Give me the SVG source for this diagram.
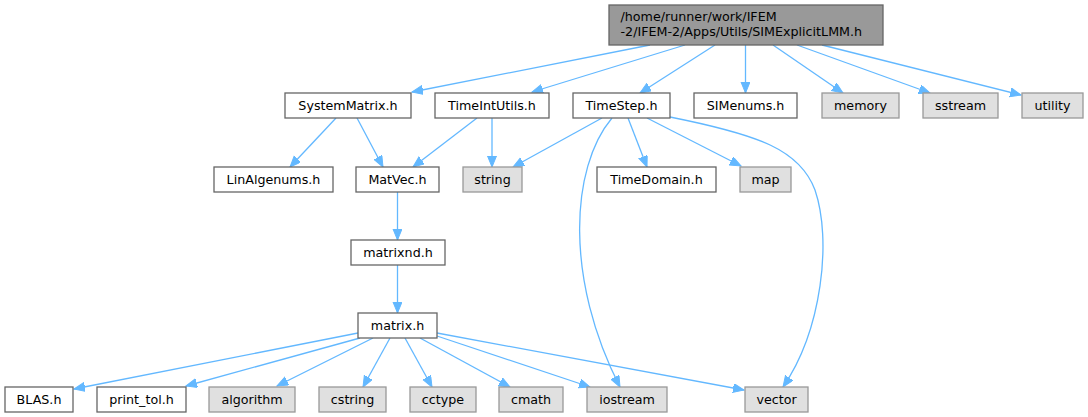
<svg xmlns="http://www.w3.org/2000/svg" width="1088" height="417" viewBox="0 0 1088 417">
<defs>
<style>
text{font-family:"DejaVu Sans",sans-serif;font-size:12.7px;fill:#000}
.c{text-anchor:middle}
.w{fill:#fff;stroke:#666;stroke-width:1.3}
.g{fill:#e0e0e0;stroke:#999;stroke-width:1.3}
.r{fill:#999;stroke:#666;stroke-width:1.3}
.e{fill:none;stroke:#63b8ff;stroke-width:1.3;marker-end:url(#a)}
</style>
<marker id="a" markerUnits="userSpaceOnUse" markerWidth="12" markerHeight="10" refX="11" refY="4.5" orient="auto">
<path d="M0,0 L11,4.5 L0,9 z" fill="#63b8ff" stroke="#63b8ff" stroke-width="1"/>
</marker>
</defs>
<rect width="1088" height="417" fill="#fff"/>
<g id="edges">
<path class="e" d="M650,45 L412,92"/>
<path class="e" d="M685,45 L532,92"/>
<path class="e" d="M715,45 L640,93"/>
<path class="e" d="M745.5,45 L745.5,93"/>
<path class="e" d="M773,45 L843,93"/>
<path class="e" d="M797,45 L930,93"/>
<path class="e" d="M822,45 L1021,95"/>
<path class="e" d="M336,118 L290,167"/>
<path class="e" d="M357,118 L383,167"/>
<path class="e" d="M477,118 L413,167"/>
<path class="e" d="M492,118 L492,167"/>
<path class="e" d="M602,118 L513,167"/>
<path class="e" d="M612,118 C570,168 565,280 620,387"/>
<path class="e" d="M628,118 L647,167"/>
<path class="e" d="M647,118 L741,166"/>
<path class="e" d="M670,117 C760,135 800,150 815,190 C832,240 822,330 783,387"/>
<path class="e" d="M397.5,192 L397.5,240"/>
<path class="e" d="M397.5,265 L397.5,313"/>
<path class="e" d="M358,333 L74,389"/>
<path class="e" d="M360,338 L186,386"/>
<path class="e" d="M373,338 L277,386"/>
<path class="e" d="M390,338 L363,387"/>
<path class="e" d="M405,338 L432,387"/>
<path class="e" d="M420,338 L510,387"/>
<path class="e" d="M437,336 L590,387"/>
<path class="e" d="M437,333 L744,390"/>
</g>
<g id="root"><rect class="r" x="609" y="5" width="274" height="40"/><text x="620.5" y="20.5">/home/runner/work/IFEM</text><text x="620.5" y="35.5">-2/IFEM-2/Apps/Utils/SIMExplicitLMM.h</text></g>
<g id="SystemMatrix"><rect class="w" x="285" y="93" width="126" height="25"/><text class="c" x="348" y="110">SystemMatrix.h</text></g>
<g id="TimeIntUtils"><rect class="w" x="435" y="93" width="114" height="25"/><text class="c" x="492" y="110">TimeIntUtils.h</text></g>
<g id="TimeStep"><rect class="w" x="573" y="93" width="97" height="25"/><text class="c" x="621.5" y="110">TimeStep.h</text></g>
<g id="SIMenums"><rect class="w" x="694" y="93" width="103" height="25"/><text class="c" x="745.5" y="110">SIMenums.h</text></g>
<g id="memory"><rect class="g" x="822" y="93" width="77" height="25"/><text class="c" x="860.5" y="110">memory</text></g>
<g id="sstream"><rect class="g" x="923" y="93" width="75" height="25"/><text class="c" x="960.5" y="110">sstream</text></g>
<g id="utility"><rect class="g" x="1022" y="93" width="61" height="25"/><text class="c" x="1052.5" y="110">utility</text></g>
<g id="LinAlgenums"><rect class="w" x="214" y="167" width="119" height="25"/><text class="c" x="273.5" y="184">LinAlgenums.h</text></g>
<g id="MatVec"><rect class="w" x="356" y="167" width="83" height="25"/><text class="c" x="397.5" y="184">MatVec.h</text></g>
<g id="string"><rect class="g" x="463" y="167" width="59" height="25"/><text class="c" x="492.5" y="184">string</text></g>
<g id="TimeDomain"><rect class="w" x="597" y="167" width="119" height="25"/><text class="c" x="656.5" y="184">TimeDomain.h</text></g>
<g id="map"><rect class="g" x="740" y="167" width="51" height="25"/><text class="c" x="765.5" y="184">map</text></g>
<g id="matrixnd"><rect class="w" x="351" y="240" width="94" height="25"/><text class="c" x="398" y="257">matrixnd.h</text></g>
<g id="matrix"><rect class="w" x="358" y="313" width="79" height="25"/><text class="c" x="397.5" y="330">matrix.h</text></g>
<g id="BLAS"><rect class="w" x="5" y="387" width="68" height="25"/><text class="c" x="39" y="404">BLAS.h</text></g>
<g id="print_tol"><rect class="w" x="97" y="387" width="89" height="25"/><text class="c" x="141.5" y="404">print_tol.h</text></g>
<g id="algorithm"><rect class="g" x="209" y="387" width="86" height="25"/><text class="c" x="252" y="404">algorithm</text></g>
<g id="cstring"><rect class="g" x="319" y="387" width="67" height="25"/><text class="c" x="352.5" y="404">cstring</text></g>
<g id="cctype"><rect class="g" x="410" y="387" width="66" height="25"/><text class="c" x="443" y="404">cctype</text></g>
<g id="cmath"><rect class="g" x="499" y="387" width="64" height="25"/><text class="c" x="531" y="404">cmath</text></g>
<g id="iostream"><rect class="g" x="587" y="387" width="80" height="25"/><text class="c" x="627" y="404">iostream</text></g>
<g id="vector"><rect class="g" x="745" y="387" width="63" height="25"/><text class="c" x="776.5" y="404">vector</text></g>
</svg>
